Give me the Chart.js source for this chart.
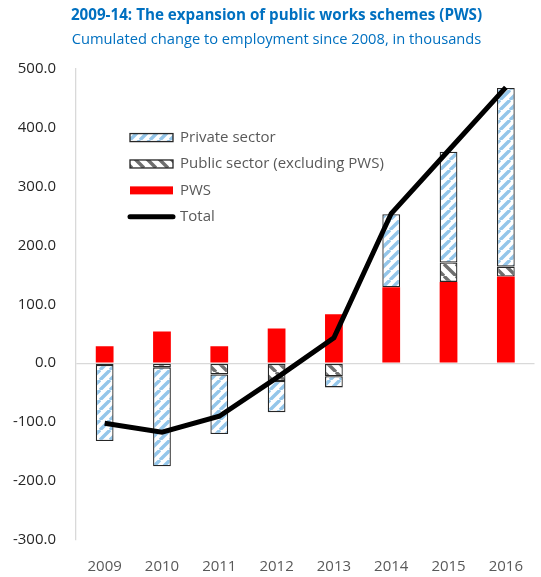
<!DOCTYPE html>
<html>
<head>
<meta charset="utf-8">
<script src="https://cdn.jsdelivr.net/npm/chart.js@4.4.1/dist/chart.umd.min.js"></script>
<style>
  html, body { margin: 0; padding: 0; background: #fff; overflow: hidden; }
  #wrap { width: 541px; height: 577px; }
</style>
</head>
<body>
<div id="wrap"><canvas id="pwsChart"></canvas></div>
<script>
const years = ['2009', '2010', '2011', '2012', '2013', '2014', '2015', '2016'];
const pws = [29, 54, 29, 59, 83, 129, 138, 147];
const publicSector = [-3, -7, -19, -30, -22, 0, 33, 17];
const privateSector = [-129, -168, -101, -53, -19, 124, 188, 303];
const total = [-102, -117, -90, -25, 43, 254, 361, 468];
const yTicks = [-300, -200, -100, 0, 100, 200, 300, 400, 500];

// striped fills like the excel pattern
function stripes(color, size, lineW, slash) {
  const c = document.createElement('canvas');
  c.width = c.height = size;
  const g = c.getContext('2d');
  g.fillStyle = '#fff';
  g.fillRect(0, 0, size, size);
  g.strokeStyle = color;
  g.lineWidth = lineW;
  g.beginPath();
  for (let k = -1; k <= 1; k++) {
    if (slash) {
      g.moveTo(k * size, size);
      g.lineTo(k * size + size, 0);
    } else {
      g.moveTo(k * size, 0);
      g.lineTo(k * size + size, size);
    }
  }
  g.stroke();
  return g.createPattern(c, 'repeat');
}

const privFill = stripes('#94C6EA', 10, 3.4, true);
const pubFill = stripes('#6F6F6F', 12, 3.4, false);

const legendItems = [
  { label: 'Private sector', fill: privFill, border: true },
  { label: 'Public sector (excluding PWS)', fill: pubFill, border: true },
  { label: 'PWS', fill: '#FF0000', border: false },
  { label: 'Total', line: true }
];

const insideLegend = {
  id: 'insideLegend',
  afterDraw(chart) {
    const ctx = chart.ctx;
    const x0 = chart.chartArea.left + 54;
    let y = chart.chartArea.top + 69;
    ctx.save();
    ctx.font = '15px "Open Sans"';
    ctx.textBaseline = 'middle';
    legendItems.forEach(it => {
      if (it.line) {
        ctx.strokeStyle = '#000';
        ctx.lineWidth = 5;
        ctx.lineCap = 'round';
        ctx.beginPath();
        ctx.moveTo(x0, y);
        ctx.lineTo(x0 + 43, y);
        ctx.stroke();
      } else {
        ctx.fillStyle = it.fill;
        ctx.fillRect(x0, y - 4, 43, 8);
        if (it.border) {
          ctx.strokeStyle = '#262626';
          ctx.lineWidth = 1.3;
          ctx.strokeRect(x0, y - 4, 43, 8);
        }
      }
      ctx.fillStyle = '#595959';
      ctx.fillText(it.label, x0 + 50, y);
      y += 26.4;
    });
    ctx.restore();
  }
};

const ctx = document.getElementById('pwsChart').getContext('2d');
new Chart(ctx, {
  data: {
    labels: years,
    datasets: [
      {
        type: 'bar',
        label: 'PWS',
        data: pws,
        backgroundColor: '#FF0000',
        borderWidth: 0,
        order: 1
      },
      {
        type: 'bar',
        label: 'Public sector (excluding PWS)',
        data: publicSector,
        backgroundColor: pubFill,
        borderColor: '#262626',
        borderWidth: 1.3,
        borderSkipped: false,
        order: 1
      },
      {
        type: 'bar',
        label: 'Private sector',
        data: privateSector,
        backgroundColor: privFill,
        borderColor: '#262626',
        borderWidth: 1.3,
        borderSkipped: false,
        order: 1
      },
      {
        type: 'line',
        label: 'Total',
        data: total,
        borderColor: '#000',
        borderWidth: 5,
        pointRadius: 0,
        tension: 0,
        order: 0
      }
    ]
  },
  options: {
    responsive: true,
    maintainAspectRatio: false,
    animation: false,
    // small left padding nudges the centred title right, like the original
    layout: { padding: { left: 12, top: 0, right: 0, bottom: 0 } },
    datasets: { bar: { barPercentage: 0.31, categoryPercentage: 1 } },
    plugins: {
      legend: { display: false },
      tooltip: { enabled: false },
      title: {
        display: true,
        text: '2009-14: The expansion of public works schemes (PWS)',
        color: '#0070C0',
        font: { family: '"Open Sans"', size: 15.2, weight: 'bold' },
        padding: { top: 6.8, bottom: 5.9 }
      },
      subtitle: {
        display: true,
        text: 'Cumulated change to employment since 2008, in thousands',
        color: '#0070C0',
        font: { family: '"Open Sans"', size: 14.7 },
        padding: { top: 0, bottom: 20 }
      }
    },
    scales: {
      x: {
        stacked: true,
        afterFit(scale) { scale.height = 37; },
        grid: { display: false, drawTicks: false },
        border: { display: false },
        ticks: { color: '#595959', font: { family: '"Open Sans"', size: 15 }, padding: 18 }
      },
      y: {
        stacked: true,
        min: -300,
        max: 500,
        afterFit(scale) { scale.width = 64; },
        afterBuildTicks(scale) { scale.ticks = yTicks.map(v => ({ value: v })); },
        grid: {
          drawTicks: false,
          color: c => (c.tick && c.tick.value === 0 ? '#D9D9D9' : 'rgba(0,0,0,0)'),
          lineWidth: 1.3
        },
        border: { display: true, color: '#D9D9D9', width: 1.3 },
        ticks: {
          color: '#262626',
          padding: 20,
          font: { family: '"Open Sans"', size: 15 },
          callback: v => v.toFixed(1)
        }
      }
    }
  },
  plugins: [insideLegend]
});
</script>
</body>
</html>
